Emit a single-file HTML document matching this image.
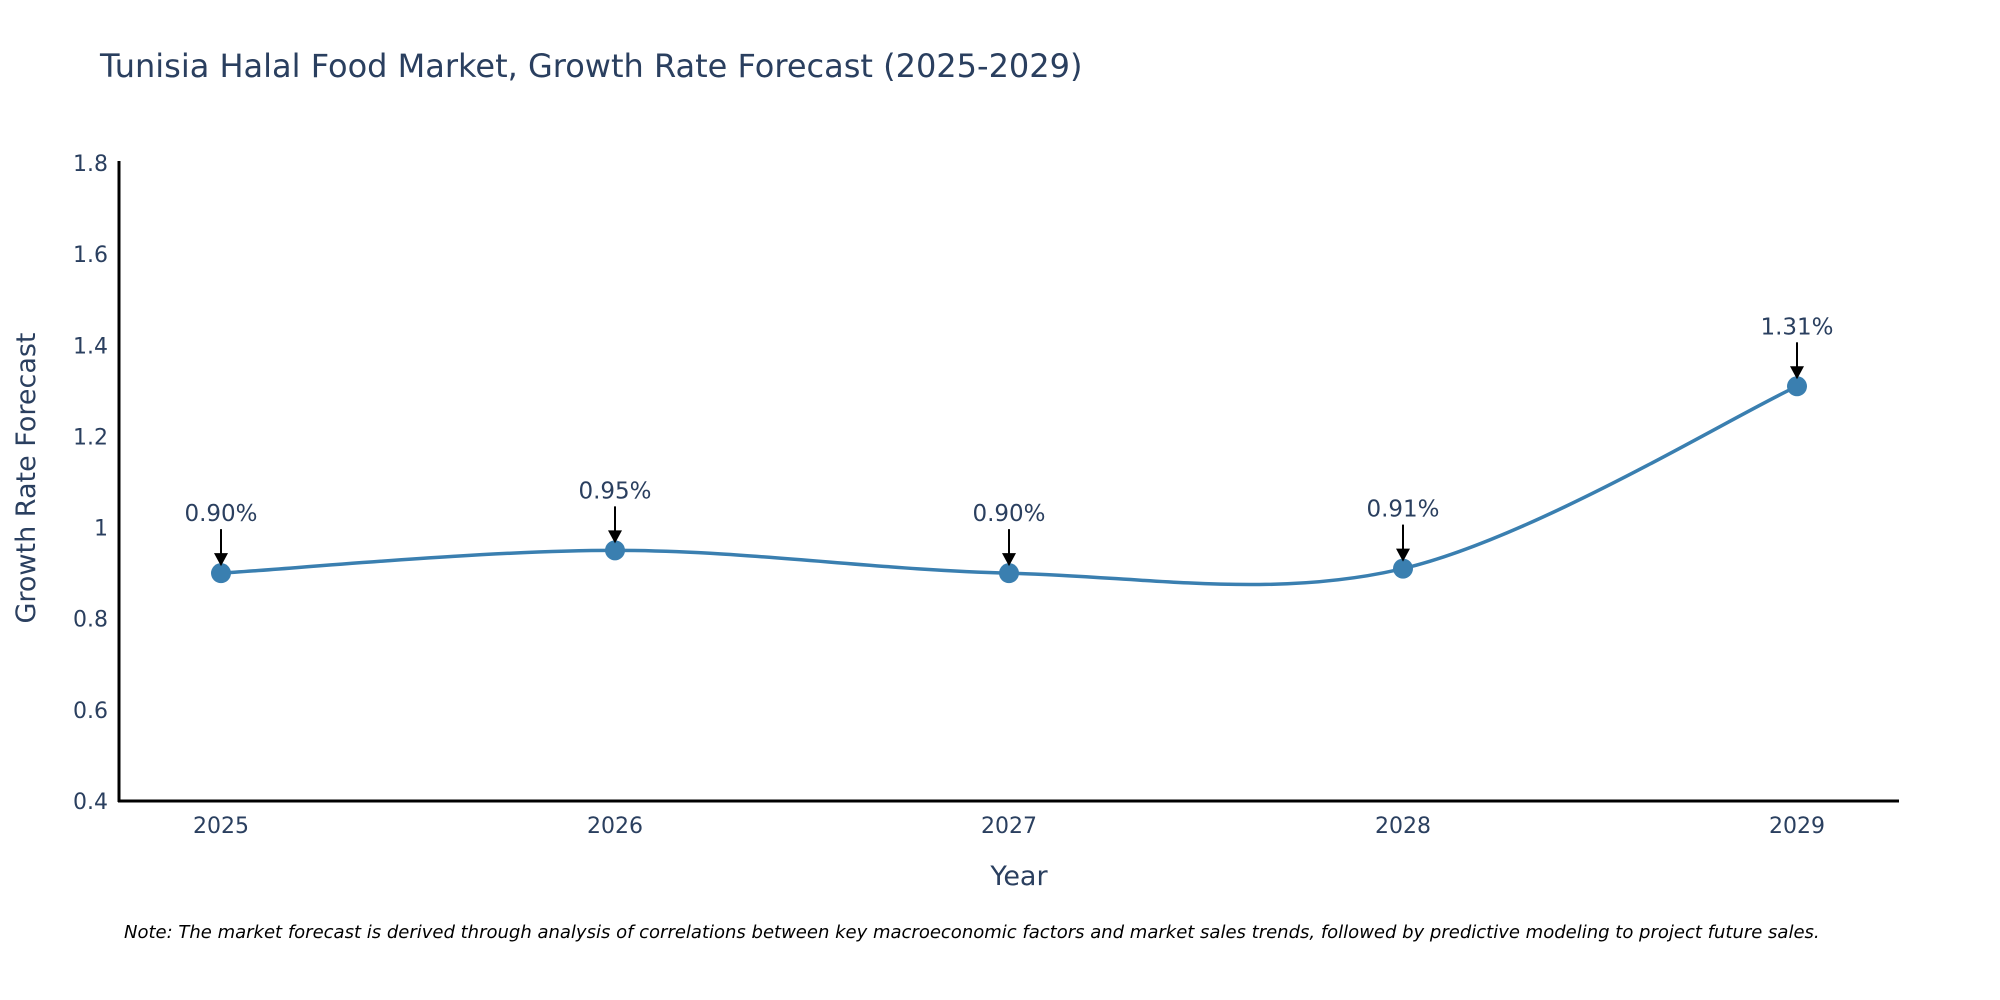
<!DOCTYPE html>
<html><head><meta charset="utf-8">
<style>
body{margin:0;background:#fff;}
svg{display:block;font-family:"DejaVu Sans","Liberation Sans",sans-serif;}
</style></head>
<body>
<svg id="chart" width="2000" height="1000" viewBox="0 0 2000 1000">
  <text x="100" y="77" font-size="32" fill="#2a3f5f">Tunisia Halal Food Market, Growth Rate Forecast (2025-2029)</text>
  <g id="yticks"></g>
  <g id="xticks"></g>
  <line x1="119" y1="161" x2="119" y2="802" stroke="#000" stroke-width="3"/>
  <line x1="118" y1="801" x2="1899" y2="801" stroke="#000" stroke-width="3"/>
  <path id="curve" fill="none" stroke="#3a7fb0" stroke-width="3.5"/>
  <g id="points"></g>
  <g id="annos"></g>
  <text x="1019" y="885" font-size="27" fill="#2a3f5f" text-anchor="middle">Year</text>
  <text transform="translate(35,478) rotate(-90)" font-size="27" fill="#2a3f5f" text-anchor="middle">Growth Rate Forecast</text>
  <text x="124" y="938" font-size="18" font-style="italic" fill="#000">Note: The market forecast is derived through analysis of correlations between key macroeconomic factors and market sales trends, followed by predictive modeling to project future sales.</text>
</svg>
<script>
const years = ["2025","2026","2027","2028","2029"];
const values = [0.90, 0.95, 0.90, 0.91, 1.31];
const labels = ["0.90%","0.95%","0.90%","0.91%","1.31%"];
const yTicks = [0.4,0.6,0.8,1,1.2,1.4,1.6,1.8];
const yTickLabels = ["0.4","0.6","0.8","1","1.2","1.4","1.6","1.8"];

const NS="http://www.w3.org/2000/svg";
function X(i){return 221 + i*(1797-221)/(years.length-1);}
function Y(v){return 801 - (v-0.4)*(801-163)/(1.8-0.4);}
function mk(tag,attrs,parent){const e=document.createElementNS(NS,tag);for(const k in attrs)e.setAttribute(k,attrs[k]);parent.appendChild(e);return e;}

const yg=document.getElementById('yticks');
yTicks.forEach((v,i)=>{
  const t=mk('text',{x:108,y:Y(v)+8,'font-size':22,fill:'#2a3f5f','text-anchor':'end'},yg);
  
  
  t.textContent=yTickLabels[i];
});
const xg=document.getElementById('xticks');
years.forEach((y,i)=>{
  const t=mk('text',{x:X(i),y:833,'font-size':22,fill:'#2a3f5f','text-anchor':'middle'},xg);
  
  
  t.textContent=y;
});

const pts=values.map((v,i)=>[X(i),Y(v)]);
let d=`M${pts[0][0]},${pts[0][1]}`;
const tn=0.5;
for(let i=0;i<pts.length-1;i++){
  const p0=pts[i-1]||pts[i],p1=pts[i],p2=pts[i+1],p3=pts[i+2]||pts[i+1];
  const c1=[p1[0]+(p2[0]-p0[0])*tn/3,p1[1]+(p2[1]-p0[1])*tn/3];
  const c2=[p2[0]-(p3[0]-p1[0])*tn/3,p2[1]-(p3[1]-p1[1])*tn/3];
  d+=` C${c1[0]},${c1[1]} ${c2[0]},${c2[1]} ${p2[0]},${p2[1]}`;
}
document.getElementById('curve').setAttribute('d',d);

const pg=document.getElementById('points'), ag=document.getElementById('annos');
values.forEach((v,i)=>{
  const x=X(i),y=Y(v);
  const c=mk('circle',{cx:x,cy:y,r:10,fill:'#3a7fb0'},pg);
  
  
  const l=mk('line',{x1:x,y1:y-44,x2:x,y2:y-18,stroke:'#000','stroke-width':2},ag);
  
  
  const h=mk('path',{d:`M${x-7},${y-20} L${x+7},${y-20} L${x},${y-7} Z`,fill:'#000'},ag);
  
  
  const t=mk('text',{x:x,y:y-52,'font-size':23,fill:'#2a3f5f','text-anchor':'middle'},ag);
  
  
  t.textContent=labels[i];
});
</script>
</body></html>
